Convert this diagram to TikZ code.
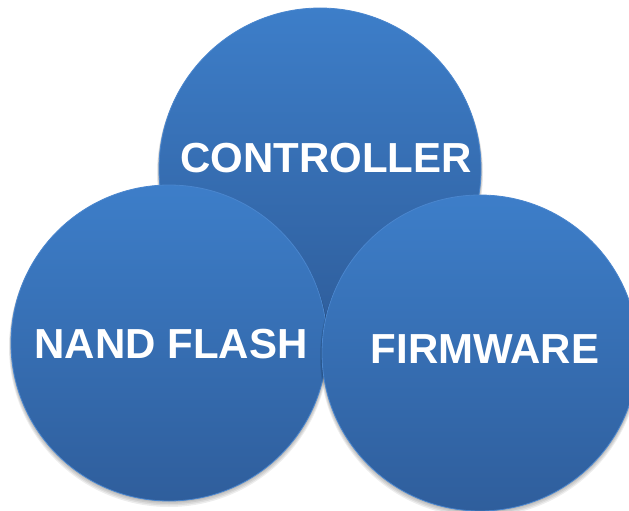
\documentclass[tikz,border=0pt]{standalone}
\usepackage{fontspec}
\setmainfont{Liberation Sans}
\begin{document}
\begin{tikzpicture}[x=1pt,y=1pt,
  bubble/.style={circle, minimum size=#1, inner sep=0pt, draw=edgeblue, line width=0.8pt,
    top color=topblue, bottom color=botblue},
  shade/.style={circle, minimum size=#1, inner sep=0pt, fill=black, fill opacity=0.07, draw=none},
  lbl/.style={text=white, font=\fontsize{42}{46}\selectfont\bfseries, inner sep=0pt}]
\definecolor{topblue}{HTML}{3D7EC9}
\definecolor{botblue}{HTML}{2F5E9C}
\definecolor{edgeblue}{HTML}{4A86CE}
\useasboundingbox (0,0) rectangle (629,-511);
\fill[white] (0,0) rectangle (629,-511);
% soft shadows
\foreach \d in {1,2,3,4}{
  \node[shade=322+\d] at (320,-169-\d) {};
}
\node[bubble=322] (ctrl) at (320,-169) {};
\foreach \d in {1,2,3,4}{
  \node[shade=316+\d] at (169,-343-\d) {};
}
\node[bubble=316] (nand) at (169,-343) {};
\foreach \d in {1,2,3,4}{
  \node[shade=316+\d] at (480,-353-\d) {};
}
\node[bubble=316] (firm) at (480,-353) {};
\node[lbl] (tc) at (326,-158) {CONTROLLER};
\node[lbl] (tn) at (171,-344) {NAND FLASH};
\node[lbl] (tf) at (485,-349) {FIRMWARE};
\end{tikzpicture}
\end{document}
